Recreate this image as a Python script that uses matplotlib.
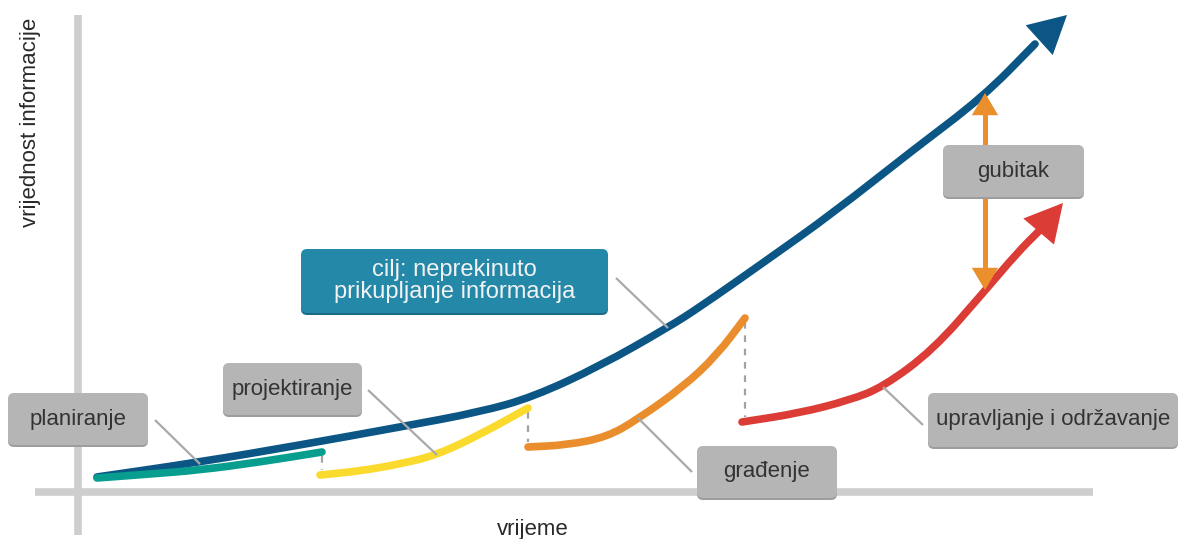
"""
Information value over the lifecycle of a building: target (continuous
collection) vs. the real fragmented phases, with the resulting loss.
"""

import matplotlib.pyplot as plt
from matplotlib.patches import FancyBboxPatch, PathPatch
from matplotlib.path import Path

# values, origin where the two axes cross
# (x = time, y = information value)
TARGET_T = [19, 122, 222, 322, 402, 455, 522, 589, 622, 689, 755, 835, 905, 957]
TARGET_V = [15, 30, 47, 65, 80, 95, 126, 164, 185, 232, 279, 342, 395, 448]
TARGET_TIP = (989, 477)

PLAN_T = [19, 72, 122, 182, 244]
PLAN_V = [14, 18, 22, 30, 40]

DESIGN_T = [242, 282, 322, 359, 405, 450]
DESIGN_V = [17, 21, 28, 37, 59, 84]

BUILD_T = [450, 489, 529, 560, 605, 639, 667]
BUILD_V = [45, 47, 55, 73, 105, 137, 174]

OPERATE_T = [664, 722, 772, 805, 855, 905, 939, 962]
OPERATE_V = [70, 79, 92, 105, 142, 199, 239, 262]
OPERATE_TIP = (985, 289)

LOSS_T = 907
LOSS_V = (202, 399)

PHASE_LABELS = ["planiranje", "projektiranje", "građenje",
                "upravljanje i održavanje"]
TARGET_LABEL = "cilj: neprekinuto\nprikupljanje informacija"
LOSS_LABEL = "gubitak"
X_LABEL = "vrijeme"
Y_LABEL = "vrijednost informacije"

C_TARGET = "#0b5684"
C_PHASES = ["#079d8f", "#fbda2e", "#ea8d2d", "#dc3c36"]
C_LOSS = "#ea8f2c"
C_BOX = "#b4b5b4"
C_BOX_TARGET = "#2489a9"
C_AXIS = "#cdcecd"
C_LEADER = "#a9a9a9"
C_DASH = "#a3a3a3"

FONT = ["Liberation Sans", "DejaVu Sans"]

fig = plt.figure(figsize=(11.8, 5.39), dpi=100)
ax = fig.add_axes([0, 0, 1, 1])
ax.set_xlim(-78, 1102)
ax.set_ylim(-47, 492)
ax.axis("off")

# axes as thick grey bars
ax.plot([0, 0], [-43, 477], color=C_AXIS, lw=5.5, solid_capstyle="butt", zorder=1)
ax.plot([-43, 1015], [0, 0], color=C_AXIS, lw=5.5, solid_capstyle="butt", zorder=1)

ax.text(-47, 370, Y_LABEL, rotation=90, ha="center", va="center",
        fontsize=16, color="#2a2a2a", family=FONT)
ax.text(455, -38, X_LABEL, ha="center", va="center",
        fontsize=16, color="#2a2a2a", family=FONT)


def smooth(t, v, color, z=3):
    """Quadratic bezier through segment midpoints, read points as controls."""
    pts = list(zip(t, v))
    verts = [pts[0]]
    codes = [Path.MOVETO]
    mids = [((a[0] + b[0]) / 2, (a[1] + b[1]) / 2) for a, b in zip(pts, pts[1:])]
    verts.append(mids[0])
    codes.append(Path.LINETO)
    for p, m in zip(pts[1:-1], mids[1:]):
        verts += [p, m]
        codes += [Path.CURVE3, Path.CURVE3]
    verts.append(pts[-1])
    codes.append(Path.LINETO)
    ax.add_patch(PathPatch(Path(verts, codes), fill=False, ec=color, lw=5.5,
                           capstyle="round", joinstyle="round", zorder=z))


def head(xy, xytext, color, hl=2.7, hw=1.45):
    ax.annotate("", xy=xy, xytext=xytext,
                arrowprops=dict(arrowstyle=f"-|>,head_length={hl},head_width={hw}",
                                color=color, lw=0, shrinkA=0, shrinkB=0,
                                mutation_scale=10),
                zorder=4)


# target curve
smooth(TARGET_T, TARGET_V, C_TARGET)
head(TARGET_TIP, (TARGET_T[-1], TARGET_V[-1]), C_TARGET)

# real phases
phases = [(PLAN_T, PLAN_V), (DESIGN_T, DESIGN_V), (BUILD_T, BUILD_V),
          (OPERATE_T, OPERATE_V)]
for i, ((t, v), c) in enumerate(zip(phases, C_PHASES)):
    smooth(t, v, c, z=3.5)
    if i > 0:
        pt, pv = phases[i - 1]
        ax.plot([pt[-1], pt[-1]], [pv[-1] - 4, v[0] + 5], color=C_DASH,
                lw=1.6, ls=(0, (3, 3)), zorder=2)
head(OPERATE_TIP, (OPERATE_T[-1], OPERATE_V[-1]), C_PHASES[3])

# loss arrow between target and reality
ax.plot([LOSS_T, LOSS_T], [LOSS_V[0] + 15, LOSS_V[1] - 15], color=C_LOSS,
        lw=3.6, solid_capstyle="butt", zorder=4)
head((LOSS_T, LOSS_V[1]), (LOSS_T, LOSS_V[1] - 20), C_LOSS, hl=1.6, hw=0.95)
head((LOSS_T, LOSS_V[0]), (LOSS_T, LOSS_V[0] + 20), C_LOSS, hl=1.6, hw=0.95)


def box(x0, y0, x1, y1, text, face, edge, tcolor, leader=None, fs=16,
        ls=1.1):
    if leader is not None:
        ax.plot(*zip(*leader), color=C_LEADER, lw=1.6, zorder=5,
                solid_capstyle="butt")
    ax.add_patch(FancyBboxPatch((x0, y0 - 2), x1 - x0, y1 - y0,
                                boxstyle="round,pad=0,rounding_size=6",
                                fc=edge, ec="none", zorder=6))
    ax.add_patch(FancyBboxPatch((x0, y0), x1 - x0, y1 - y0,
                                boxstyle="round,pad=0,rounding_size=6",
                                fc=face, ec="none", zorder=6))
    ax.text((x0 + x1) / 2, (y0 + y1) / 2, text, ha="center", va="center",
            fontsize=fs, color=tcolor, family=FONT, linespacing=ls, zorder=7)


box(-70, 47, 70, 99, PHASE_LABELS[0], C_BOX, "#9c9d9c", "#333333",
    leader=[(77, 72), (122, 28)])
box(145, 77, 284, 129, PHASE_LABELS[1], C_BOX, "#9c9d9c", "#333333",
    leader=[(290, 102), (359, 37)])
box(619, -6, 759, 46, PHASE_LABELS[2], C_BOX, "#9c9d9c", "#333333",
    leader=[(614, 20), (560, 74)])
box(850, 45, 1100, 99, PHASE_LABELS[3], C_BOX, "#9c9d9c", "#333333",
    leader=[(845, 67), (805, 105)])
box(865, 295, 1006, 347, LOSS_LABEL, C_BOX, "#9c9d9c", "#333333")
box(223, 179, 530, 243, TARGET_LABEL, C_BOX_TARGET, "#1a6b88", "#f2f2f2",
    leader=[(538, 214), (590, 164)], fs=17, ls=1.05)

fig.savefig("out.png", dpi=100)
